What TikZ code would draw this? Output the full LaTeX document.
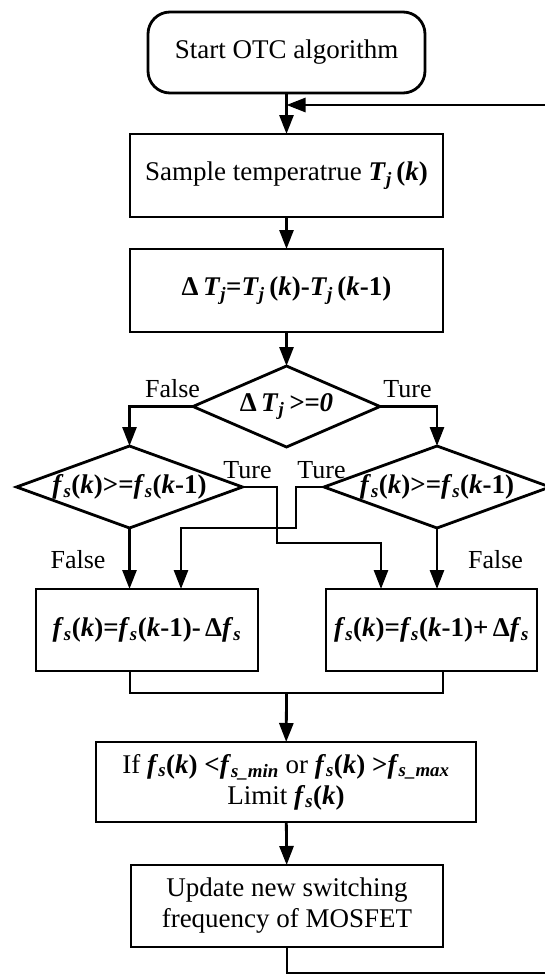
\documentclass[tikz,border=0pt]{standalone}
\usepackage{fontspec}
\setmainfont{Liberation Serif}
\usetikzlibrary{positioning,shapes.geometric,arrows.meta}

\newcommand{\bi}[1]{\textbf{\textit{#1}}}
\newcommand{\fsk}[1]{\bi{f}\textsubscript{\bi{s}}\textbf{(}\bi{k}\textbf{#1)}}
\newcommand{\Tjk}[1]{\bi{T}\textsubscript{\bi{j}}\,\textbf{(}\bi{k}\textbf{#1)}}

\begin{document}
\begin{tikzpicture}[%
		x=1pt, y=-1pt,
		->,
		>={Triangle[length=19pt,width=14pt]},
		line width=2.8pt,
		font=\fontsize{27}{31}\selectfont,
		proc/.style={%
			draw,
			rectangle,
			minimum width=313pt,
			minimum height=83pt,
			inner sep=0pt,
			outer sep=0pt,
			align=center
		},
		startbox/.style={proc, rounded corners=22pt, minimum width=277pt, minimum height=81pt},
		decide/.style={%
			draw,
			diamond,
			minimum width=226pt,
			minimum height=82pt,
			inner sep=0pt,
			outer sep=0pt
		},
		lbl/.style={anchor=base, inner sep=0pt, font=\fontsize{26}{30}\selectfont}
		]
		\useasboundingbox (0,0) rectangle (544,974);
		
		\node[startbox] (start) at (286.5,52.5)                     {Start OTC algorithm};
		\node[proc] (sample) [below=41pt of start]                  {Sample temperatrue \Tjk{}};
		\node[proc] (delta) [below=32pt of sample]                  {\textbf{Δ}\,\bi{T}\textsubscript{\bi{j}}\textbf{=}\Tjk{}\textbf{-}\Tjk{-1}};
		\node[decide, minimum width=187pt, minimum height=81pt] (dec) [below=34pt of delta] {\makebox[0pt]{\textbf{Δ}\,\bi{T}\textsubscript{\bi{j}}\,\bi{>=0}}};
		\node[decide] (decL) at (129.5,487)                         {\makebox[0pt]{\fsk{}\textbf{>=}\fsk{-1}}};
		\node[decide] (decR) at (437,487)                           {\makebox[0pt]{\fsk{}\textbf{>=}\fsk{-1}}};
		\node[proc, minimum width=222pt, minimum height=82pt] (boxL) at (147,630)  {\fsk{}\textbf{=}\fsk{-1}\textbf{-}\,\textbf{Δ}\bi{f}\textsubscript{\bi{s}}};
		\node[proc, minimum width=211pt, minimum height=82pt] (boxR) at (431.5,630) {\fsk{}\textbf{=}\fsk{-1}\textbf{+}\,\textbf{Δ}\bi{f}\textsubscript{\bi{s}}};
		\node[proc, minimum width=380pt, minimum height=80pt] (limit) at (286,782) {If \fsk{} \textbf{<}\bi{f}\textsubscript{\bi{s\_min}} or \fsk{} \textbf{>}\bi{f}\textsubscript{\bi{s\_max}}\\Limit \fsk{}};
		\node[proc, minimum width=312pt, minimum height=82pt] (update) at (287,906) {Update new switching\\frequency of MOSFET};
		
		\node[lbl] (f1) at (172.5,397) {False};
		\node[lbl] (t1) at (407.5,397) {Ture};
		\node[lbl] (t2) at (247.5,478) {Ture};
		\node[lbl] (t3) at (321.5,478) {Ture};
		\node[lbl] (f2) at (78,568)    {False};
		\node[lbl] (f3) at (495.5,568) {False};
		
		\coordinate (tL) at (277,543);
		\coordinate (tR) at (296,528);
		\coordinate (inL) at (181,589);
		\coordinate (inR) at (381,589);
		\coordinate (mrg) at (286.5,693);
		\coordinate (lpT) at (286.5,105);
		\coordinate (lpB) at (570,973);
		
		\draw (start) -- (sample);
		\draw (sample) -- (delta);
		\draw (delta) -- (dec);
		\draw (dec.west) -| (decL.north);
		\draw (dec.east) -| (decR.north);
		\draw (decL.south) -- (decL.south |- boxL.north);
		\draw (decR.south) -- (decR.south |- boxR.north);
		\draw (decL.east) -| (tL) -| (inR);
		\draw (decR.west) -| (tR) -| (inL);
		\draw[-] (boxL.south -| sample.west) |- (mrg) -| (boxR.south -| sample.east);
		\draw (mrg) -- (limit);
		\draw (limit) -- (update);
		\draw (update.south) |- (lpB) |- (lpT);
\end{tikzpicture}
\end{document}
